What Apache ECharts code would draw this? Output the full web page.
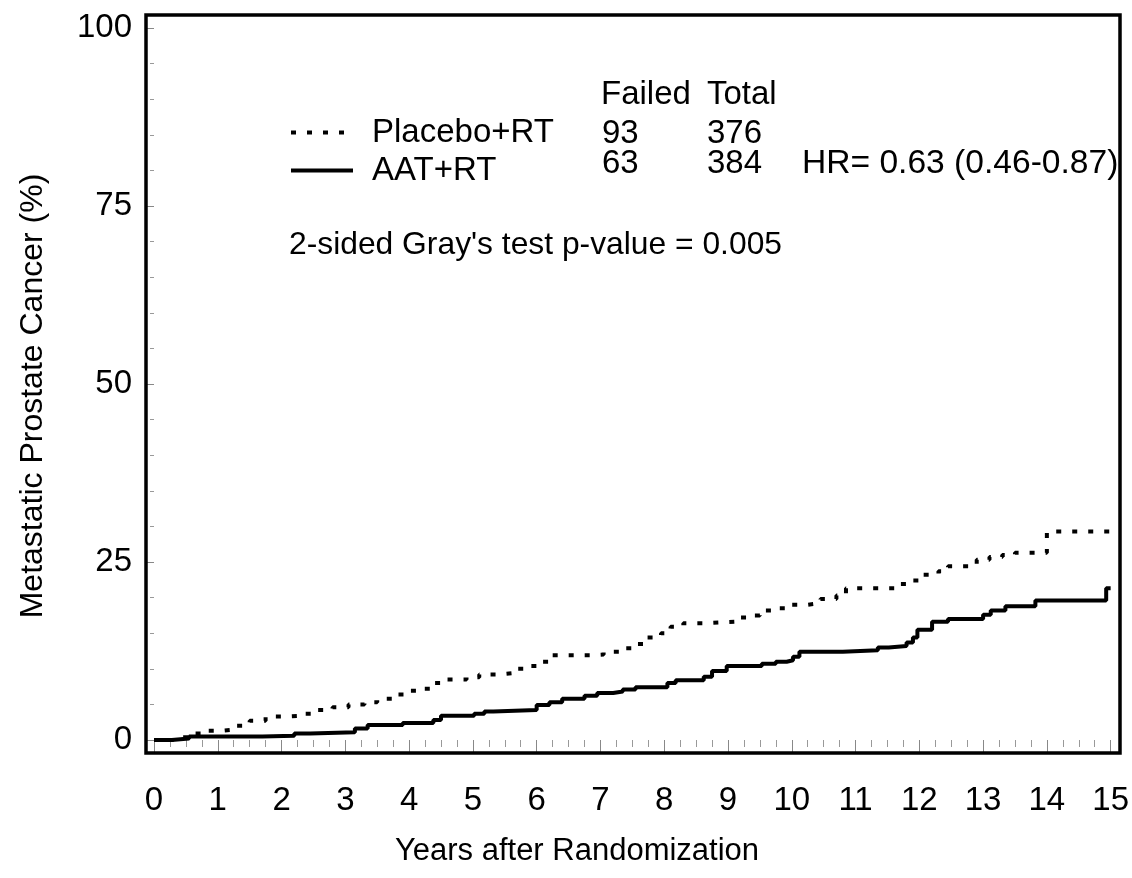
<!DOCTYPE html>
<html>
<head>
<meta charset="utf-8">
<script src="https://cdn.jsdelivr.net/npm/echarts@6/dist/echarts.min.js"></script>
<style>
html,body{margin:0;padding:0;background:#fff;}
#chart{width:1132px;height:878px;}
</style>
</head>
<body>
<div id="chart"></div>
<script>
// ---- data (years after randomization, cumulative incidence %) ----
const placeboT = [0, 0.3, 0.55, 0.75, 1.05, 1.3, 1.5, 1.75, 2.05, 2.3, 2.55, 2.8, 3.05, 3.3, 3.5, 3.75, 3.95, 4.2, 4.4, 4.6, 4.9, 5.1, 5.4, 5.65, 5.85, 6.05, 6.25, 6.85, 7.05, 7.3, 7.55, 7.7, 7.95, 8.1, 8.3, 8.6, 9.1, 9.35, 9.5, 9.8, 10.0, 10.25, 10.45, 10.7, 10.85, 11.65, 11.9, 12.05, 12.3, 12.45, 12.9, 13.1, 13.3, 13.5, 14.0, 15.0];
const placeboV = [0, 0.4, 0.9, 1.3, 1.5, 2.0, 2.7, 3.3, 3.4, 3.7, 4.2, 4.6, 5.0, 5.3, 5.8, 6.4, 6.9, 7.2, 8.0, 8.5, 8.8, 9.2, 9.4, 10.0, 10.4, 11.0, 11.9, 12.0, 12.4, 12.9, 13.5, 14.4, 15.0, 15.9, 16.4, 16.6, 17.2, 17.5, 18.2, 18.5, 19.0, 19.2, 19.8, 20.3, 21.3, 21.9, 22.4, 23.2, 23.7, 24.4, 25.3, 25.7, 26.0, 26.3, 29.3, 29.3];
const aatT = [0, 0.28, 0.55, 1.7, 2.2, 2.45, 3.15, 3.35, 3.9, 4.38, 4.5, 5.02, 5.18, 5.32, 6.0, 6.2, 6.4, 6.75, 6.95, 7.2, 7.35, 7.55, 8.05, 8.18, 8.62, 8.75, 8.98, 9.53, 9.75, 9.92, 10.02, 10.12, 10.8, 11.35, 11.52, 11.8, 11.9, 11.97, 12.2, 12.45, 13.0, 13.12, 13.35, 13.82, 14.93, 15.0];
const aatV = [0, 0.2, 0.5, 0.6, 0.9, 1.1, 1.6, 2.1, 2.4, 2.8, 3.4, 3.7, 4.0, 4.2, 4.9, 5.3, 5.8, 6.2, 6.6, 6.8, 7.1, 7.4, 8.0, 8.4, 8.9, 9.7, 10.4, 10.7, 11.0, 11.2, 11.7, 12.4, 12.6, 13.0, 13.2, 13.7, 14.4, 15.5, 16.6, 17.0, 17.6, 18.2, 18.8, 19.6, 21.3, 21.3];
const seriesNames = ['Placebo+RT', 'AAT+RT'];
const xTicks = {min: 0, max: 15, interval: 1};
const yTicks = {min: 0, max: 100, interval: 25};
const tableHeader = ['Failed', 'Total'];
const failed = [93, 63];
const total = [376, 384];
const hrText = 'HR= 0.63 (0.46-0.87)';
const pText = "2-sided Gray's test p-value = 0.005";
const xTitle = 'Years after Randomization';
const yTitle = 'Metastatic Prostate Cancer (%)';

const FONT = '"Liberation Sans", Arial, Helvetica, sans-serif';
const FS = 33;
const zip = (a, b) => a.map((t, i) => [t, b[i]]);

const chart = echarts.init(document.getElementById('chart'), null, {renderer: 'canvas'});
const txt = (s, x, y, size) => ({
  type: 'text', left: x, top: y, silent: true,
  style: {text: s, font: (size || FS) + 'px ' + FONT, fill: '#000'}
});

chart.setOption({
  animation: false,
  backgroundColor: '#fff',
  textStyle: {fontFamily: FONT},
  grid: {left: 154, right: 21, top: 28, bottom: 138, containLabel: false},
  xAxis: {
    type: 'value', min: xTicks.min, max: xTicks.max, interval: xTicks.interval,
    offset: 14,
    axisLine: {show: false},
    axisTick: {show: true, length: 12, lineStyle: {color: '#888', width: 1}},
    minorTick: {show: true, splitNumber: 4, length: 7, lineStyle: {color: '#999', width: 1}},
    splitLine: {show: false},
    axisLabel: {fontSize: FS, color: '#000', margin: 30, fontFamily: FONT}
  },
  yAxis: {
    type: 'value', min: yTicks.min, max: yTicks.max, interval: yTicks.interval,
    offset: 8,
    axisLine: {show: false},
    axisTick: {show: true, length: 8, lineStyle: {color: '#888', width: 1}},
    minorTick: {show: true, splitNumber: 5, length: 4, lineStyle: {color: '#999', width: 1}},
    splitLine: {show: false},
    axisLabel: {fontSize: FS, color: '#000', margin: 14, fontFamily: FONT}
  },
  legend: {
    show: true, orient: 'vertical', left: 289, top: 116, padding: 0,
    itemWidth: 62, itemHeight: 14, itemGap: 5,
    itemStyle: {opacity: 0},
    lineStyle: {width: 4},
    textStyle: {fontSize: FS, color: '#000', fontFamily: FONT, padding: [0, 0, 0, 14]},
    data: seriesNames
  },
  series: [
    {
      name: seriesNames[0], type: 'line', step: 'end', showSymbol: false, symbol: 'none',
      clip: false, color: '#000',
      lineStyle: {color: '#000', width: 4, type: [5, 11], cap: 'butt'},
      data: zip(placeboT, placeboV)
    },
    {
      name: seriesNames[1], type: 'line', step: 'end', showSymbol: false, symbol: 'none',
      clip: false, color: '#000',
      lineStyle: {color: '#000', width: 4, type: 'solid'},
      data: zip(aatT, aatV)
    }
  ],
  graphic: [
    {type: 'rect', silent: true, z: 10,
     shape: {x: 146, y: 15, width: 974, height: 738},
     style: {fill: 'none', stroke: '#000', lineWidth: 3.5}},
    txt(tableHeader[0], 601, 78),
    txt(tableHeader[1], 707, 78),
    txt(String(failed[0]), 602, 117),
    txt(String(total[0]), 707, 117),
    txt(String(failed[1]), 602, 147),
    txt(String(total[1]), 707, 147),
    txt(hrText, 802, 147, 33.6),
    txt(pText, 289, 229, 31.8),
    {type: 'text', silent: true, x: 577, y: 851,
     style: {text: xTitle, font: '31px ' + FONT, fill: '#000', align: 'center', verticalAlign: 'middle'}},
    {type: 'text', silent: true, x: 33, y: 396, rotation: Math.PI / 2,
     style: {text: yTitle, font: '32px ' + FONT, fill: '#000', align: 'center', verticalAlign: 'middle'}}
  ]
});
</script>
</body>
</html>
